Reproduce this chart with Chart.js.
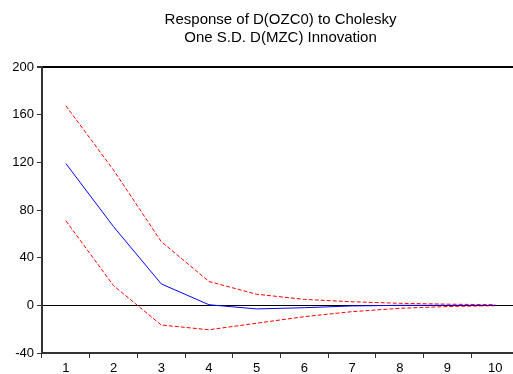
<!DOCTYPE html>
<html>
<head>
<meta charset="utf-8">
<script src="https://cdn.jsdelivr.net/npm/chart.js@4/dist/chart.umd.min.js"></script>
<style>
  html, body { margin: 0; padding: 0; overflow: hidden; background: #fff; }
  #myChart { display: block; }
</style>
</head>
<body>
<canvas id="myChart" width="520" height="374"></canvas>
<script>
const periods = ['1', '2', '3', '4', '5', '6', '7', '8', '9', '10'];

const response = [119, 66, 18, 0.5, -3, -2, -0.5, 0, 0, 0];
const upperBand = [167.5, 113.5, 53.5, 20, 9.3, 5, 3, 1.7, 1, 0.5];
const lowerBand = [71, 16.5, -16.5, -20.5, -15, -9.5, -5.3, -2.5, -1, -0.3];

const yTicks = [-40, 0, 40, 80, 120, 160, 200];

const titleLines = ['Response of D(OZC0) to Cholesky', 'One S.D. D(MZC) Innovation'];

const fontFamily = '"Liberation Sans", Arial, sans-serif';

// title centered over the plot area
const titlePlugin = {
    id: 'twoLineTitle',
    afterDraw(chart) {
        const c = chart.ctx;
        const area = chart.chartArea;
        const cx = (area.left + area.right) / 2;
        c.save();
        c.fillStyle = '#000';
        c.font = '15px ' + fontFamily;
        c.textAlign = 'center';
        c.textBaseline = 'middle';
        c.fillText(titleLines[0], cx, 20);
        c.fillText(titleLines[1], cx, 38);
        c.restore();
    }
};

const cts = document.querySelector('#myChart').getContext('2d');

const data = {
    labels: periods,
    datasets: [
        {
            label: 'Upper',
            data: upperBand,
            borderColor: '#ff0000',
            borderWidth: 1,
            borderDash: [4, 2],
            pointRadius: 0,
            tension: 0,
            fill: false,
        },
        {
            label: 'Response',
            data: response,
            borderColor: '#0000ff',
            borderWidth: 1,
            pointRadius: 0,
            tension: 0,
            fill: false,
        },
        {
            label: 'Lower',
            data: lowerBand,
            borderColor: '#ff0000',
            borderWidth: 1,
            borderDash: [4, 2],
            pointRadius: 0,
            tension: 0,
            fill: false,
        },
    ],
};

const config = {
    type: 'line',
    data: data,
    plugins: [titlePlugin],
    options: {
        responsive: false,
        devicePixelRatio: 1,
        animation: false,
        layout: { padding: { top: 67, right: 1, left: 0, bottom: 0 } },
        plugins: {
            legend: { display: false },
            title: { display: false },
            tooltip: { enabled: false },
        },
        scales: {
            x: {
                offset: true,
                grid: {
                    offset: true,
                    drawOnChartArea: false,
                    tickLength: 5,
                    tickColor: '#333',
                },
                border: { color: '#333', width: 2 },
                ticks: {
                    color: '#000',
                    padding: 3,
                    font: { size: 13, family: fontFamily },
                    maxRotation: 0,
                },
                afterFit(scale) { scale.height = 21; },
            },
            y: {
                min: -40,
                max: 200,
                afterBuildTicks(scale) {
                    scale.ticks = yTicks.map(v => ({ value: v }));
                },
                grid: {
                    color: ctx => (ctx.tick && (ctx.tick.value === 0 || ctx.tick.value === 200)) ? '#000' : 'rgba(0,0,0,0)',
                    lineWidth: ctx => (ctx.tick && ctx.tick.value === 200) ? 2 : 1,
                    tickColor: '#333',
                    tickLength: 5,
                },
                border: { color: '#333', width: 2 },
                ticks: {
                    color: '#000',
                    padding: 3,
                    font: { size: 13, family: fontFamily },
                },
                afterFit(scale) { scale.width = 42; },
            },
        },
    },
};

const myChart = new Chart(cts, config);
</script>
</body>
</html>
